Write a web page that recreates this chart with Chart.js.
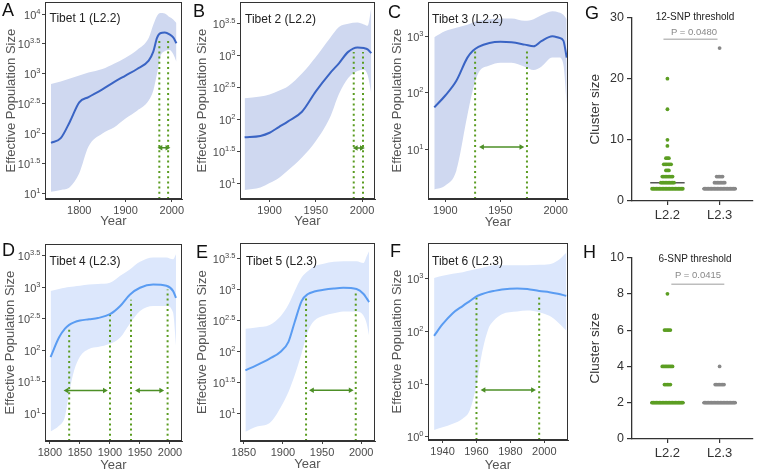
<!DOCTYPE html>
<html>
<head>
<meta charset="utf-8">
<script src="https://cdn.jsdelivr.net/npm/chart.js@4.4.1/dist/chart.umd.min.js"></script>
<style>
  html, body { margin: 0; padding: 0; background: #fff; }
  #fig { position: relative; width: 757px; height: 473px; overflow: hidden; font-family: "Liberation Sans", Arial, sans-serif; }
  #fig .box { position: absolute; }
  .lbl { position: absolute; white-space: nowrap; line-height: 1; }
  .letter { font-size: 18px; color: #111; }
  .tibet { font-size: 12px; color: #222; }
  .thr { font-size: 10px; color: #222; }
  .pval { font-size: 9.5px; color: #888; }
</style>
</head>
<body>
<div id="fig"></div>
<script>
// ---- skyline data (log10 of effective population size) ----
const yearsA  = [1739, 1760, 1780, 1800, 1820, 1850, 1875, 1900, 1925, 1950, 1960, 1968, 1975, 1985, 1995, 2003, 2010];
const medianA = [1.84, 1.92, 2.20, 2.52, 2.61, 2.74, 2.86, 2.97, 3.08, 3.22, 3.37, 3.60, 3.68, 3.69, 3.66, 3.61, 3.51];
const upperA  = [2.83, 2.87, 2.92, 2.97, 3.02, 3.08, 3.17, 3.27, 3.40, 3.60, 3.82, 3.97, 4.02, 4.01, 3.95, 3.91, 3.85];
const lowerA  = [1.02, 1.05, 1.10, 1.33, 1.78, 2.00, 2.10, 2.25, 2.38, 2.55, 2.72, 3.00, 3.28, 3.38, 3.40, 3.33, 3.20];

const yearsB  = [1873, 1890, 1900, 1910, 1920, 1935, 1950, 1965, 1975, 1985, 1995, 2002, 2006, 2010];
const medianB = [1.72, 1.74, 1.79, 1.88, 1.97, 2.12, 2.44, 2.72, 2.88, 3.06, 3.13, 3.12, 3.10, 3.04];
const upperB  = [2.33, 2.36, 2.39, 2.45, 2.52, 2.72, 2.98, 3.27, 3.45, 3.50, 3.52, 3.49, 3.47, 3.75];
const lowerB  = [0.89, 0.93, 1.00, 1.08, 1.20, 1.40, 1.66, 2.02, 2.40, 2.65, 2.76, 2.78, 2.70, 2.41];

const yearsC  = [1890, 1900, 1910, 1920, 1925, 1930, 1940, 1950, 1960, 1972, 1980, 1987, 1997, 2003, 2007, 2010];
const medianC = [1.74, 1.95, 2.21, 2.62, 2.74, 2.81, 2.88, 2.90, 2.89, 2.85, 2.82, 2.91, 3.00, 2.97, 2.92, 2.62];
const upperC  = [2.98, 3.09, 3.15, 3.20, 3.24, 3.27, 3.30, 3.31, 3.31, 3.27, 3.30, 3.37, 3.44, 3.42, 3.38, 3.30];
const lowerC  = [0.29, 0.36, 0.62, 1.60, 2.05, 2.35, 2.48, 2.53, 2.53, 2.46, 2.40, 2.46, 2.62, 2.62, 2.50, 1.80];

const yearsD  = [1801, 1815, 1825, 1832, 1840, 1850, 1865, 1880, 1900, 1917, 1933, 1950, 1972, 1994, 2005, 2010];
const medianD = [1.89, 2.20, 2.34, 2.40, 2.44, 2.47, 2.49, 2.51, 2.57, 2.70, 2.88, 2.99, 3.04, 3.02, 2.94, 2.83];
const upperD  = [2.94, 2.97, 2.99, 3.00, 3.01, 3.02, 3.04, 3.05, 3.07, 3.18, 3.28, 3.40, 3.47, 3.47, 3.44, 3.52];
const lowerD  = [0.71, 0.80, 0.95, 1.33, 1.67, 1.90, 2.02, 2.05, 2.10, 2.20, 2.42, 2.62, 2.70, 2.70, 2.60, 2.07];

const yearsE  = [1852, 1866, 1883, 1897, 1907, 1915, 1924, 1932, 1940, 1952, 1965, 1977, 1994, 2003, 2007, 2010];
const medianE = [1.70, 1.78, 1.89, 2.00, 2.16, 2.48, 2.82, 2.93, 2.97, 3.00, 3.02, 3.03, 3.01, 2.93, 2.86, 2.80];
const upperE  = [2.37, 2.39, 2.43, 2.57, 2.76, 2.98, 3.20, 3.30, 3.38, 3.42, 3.45, 3.46, 3.46, 3.43, 3.54, 3.62];
const lowerE  = [0.71, 0.79, 0.85, 1.10, 1.35, 1.62, 1.98, 2.33, 2.50, 2.58, 2.62, 2.65, 2.65, 2.58, 2.45, 2.26];

const yearsF  = [1935, 1940, 1946, 1952, 1956, 1960, 1963, 1967, 1970, 1975, 1984, 1990, 1997, 2003, 2008, 2013];
const medianF = [1.92, 2.14, 2.35, 2.49, 2.58, 2.67, 2.71, 2.75, 2.77, 2.80, 2.82, 2.81, 2.77, 2.75, 2.72, 2.68];
const upperF  = [3.02, 3.06, 3.10, 3.13, 3.16, 3.19, 3.21, 3.24, 3.26, 3.26, 3.26, 3.26, 3.27, 3.28, 3.35, 3.50];
const lowerF  = [0.13, 0.18, 0.25, 0.35, 0.50, 0.98, 1.55, 2.05, 2.20, 2.33, 2.38, 2.40, 2.37, 2.30, 2.18, 2.02];

// HPD limits (dotted lines), their top ends, and arrows
const hpdA = [1973, 1992], hpdTopA = [3.60, 3.60], arrowsA = [[1976, 1990]], arrowYA = 1.76;
const hpdB = [1991, 2001], hpdTopB = [3.06, 3.06], arrowsB = [[1993.5, 1999.5]], arrowYB = 1.55;
const hpdC = [1927, 1974], hpdTopC = [2.77, 2.77], arrowsC = [[1933.5, 1968.7]], arrowYC = 1.04;
const hpdD = [1832, 1900, 1935, 1996], hpdTopD = [2.34, 2.57, 2.80, 2.96], arrowsD = [[1828, 1891], [1947, 1985]], arrowYD = 1.36;
const hpdE = [1929.5, 1993], hpdTopE = [2.88, 2.96], arrowsE = [[1937.4, 1986.2]], arrowYE = 1.38;
const hpdF = [1960, 1997], hpdTopF = [2.65, 2.68], arrowsF = [[1964.3, 1993.2]], arrowYF = 0.89;

// tick labels
const xTicksA = [1800, 1900, 2000];
const xTicksB = [1900, 1950, 2000];
const xTicksC = [1900, 1950, 2000];
const xTicksD = [1800, 1850, 1900, 1950, 2000];
const xTicksE = [1850, 1900, 1950, 2000];
const xTicksF = [1940, 1960, 1980, 2000];
const yTicksHalf = [1, 1.5, 2, 2.5, 3, 3.5, 4];
const yTicksB = [1, 1.5, 2, 2.5, 3, 3.5];
const yTicksC = [1, 2, 3];
const yTicksF = [0, 1, 2, 3];

// ---- cluster sizes (G, H) ----
const groups = ["L2.2", "L2.3"];
const sizesG22 = [2, 3, 4, 5, 6, 7, 9, 10, 15, 20];
const countsG22 = [22, 10, 8, 3, 6, 3, 1, 1, 1, 1];
const sizesG23 = [2, 3, 4, 25];
const countsG23 = [22, 8, 5, 1];
const mediansG = [3, 2];
const sizesH22 = [2, 3, 4, 6, 8];
const countsH22 = [22, 5, 8, 5, 1];
const sizesH23 = [2, 3, 4];
const countsH23 = [22, 7, 1];
const mediansH = [2, 2];
const yTicksG = [0, 10, 20, 30];
const yTicksH = [0, 2, 4, 6, 8, 10];

Chart.defaults.font.family = "'Liberation Sans', Arial, sans-serif";
Chart.defaults.animation = false;

const fig = document.getElementById("fig");
const GREEN = "#5a9c20", ARROW = "#4d8f26";

function addText(cls, text, left, top, extra) {
  const d = document.createElement("div");
  d.className = "lbl " + cls;
  d.textContent = text;
  d.style.left = left + "px";
  d.style.top = top + "px";
  if (extra) Object.assign(d.style, extra);
  fig.appendChild(d);
  return d;
}

// canvas placed so that the chart area lands on plot = [x0, y0, x1, y1]
function makeCanvas(plot, yTitleX, bottomY, padRight) {
  const cLeft = Math.floor(yTitleX - 9);
  const cTop = Math.floor(plot[1] - 8);
  const cRight = Math.min(757, Math.ceil(plot[2] + padRight));
  const cBottom = Math.ceil(bottomY);
  const box = document.createElement("div");
  box.className = "box";
  Object.assign(box.style, { left: cLeft + "px", top: cTop + "px",
    width: (cRight - cLeft) + "px", height: (cBottom - cTop) + "px" });
  const cv = document.createElement("canvas");
  cv.width = cRight - cLeft; cv.height = cBottom - cTop;
  box.appendChild(cv);
  fig.appendChild(box);
  return { cv, cLeft, cTop, cRight, cBottom,
    layout: { left: 0, top: plot[1] - cTop, right: cRight - plot[2], bottom: 0 },
    yWidth: plot[0] - cLeft, xHeight: cBottom - plot[3] };
}

const framePlugin = {
  id: "frame",
  afterDraw(chart, args, opts) {
    if (!opts.on) return;
    const a = chart.chartArea, ctx = chart.ctx;
    ctx.save();
    ctx.strokeStyle = "#333"; ctx.lineWidth = 1;
    ctx.strokeRect(Math.round(a.left) + 0.5, Math.round(a.top) + 0.5,
      Math.round(a.right - a.left) - 1, Math.round(a.bottom - a.top) - 1);
    ctx.restore();
  }
};

const expLabels = {
  id: "expLabels",
  afterDraw(chart, args, opts) {
    if (!opts.ticks) return;
    const s = chart.scales.y, ctx = chart.ctx;
    ctx.save();
    ctx.fillStyle = "#4a4a4a";
    opts.ticks.forEach(v => {
      const y = s.getPixelForValue(v);
      const right = s.right - 4.5;
      const sup = String(v);
      ctx.font = "7.5px 'Liberation Sans'";
      const ws = ctx.measureText(sup).width;
      ctx.textBaseline = "alphabetic";
      ctx.textAlign = "left";
      ctx.fillText(sup, right - ws, y - 0.5);
      ctx.font = "11px 'Liberation Sans'";
      ctx.textAlign = "right";
      ctx.fillText("10", right - ws, y + 4.5);
    });
    ctx.restore();
  }
};

function skyline(p) {
  const c = makeCanvas(p.plot, p.yTitleX, p.xTitleY + 9, 8);
  const pts = arr => p.years.map((x, i) => ({ x, y: arr[i] }));
  const datasets = [{
    data: pts(p.median), borderColor: p.line, borderWidth: 2, pointRadius: 0,
    cubicInterpolationMode: "monotone", fill: false
  }];
  p.hpd.forEach((h, i) => datasets.push({
    data: [{ x: h, y: p.yMin }, { x: h, y: p.hpdTop[i] }], borderColor: GREEN,
    borderWidth: 2, borderDash: [2, 3.2], pointRadius: 0, fill: false
  }));
  p.arrows.forEach(a => datasets.push({
    data: [{ x: a[0], y: p.arrowY }, { x: a[1], y: p.arrowY }], borderColor: ARROW,
    borderWidth: 1.5, pointStyle: "triangle", pointRadius: 3.2, pointRotation: [270, 90],
    pointBackgroundColor: ARROW, pointBorderWidth: 0, fill: false
  }));
  datasets.push({ data: pts(p.upper), borderWidth: 0, pointRadius: 0, fill: "+1",
    backgroundColor: p.band, cubicInterpolationMode: "monotone" });
  datasets.push({ data: pts(p.lower), borderWidth: 0, pointRadius: 0, fill: false,
    cubicInterpolationMode: "monotone" });

  new Chart(c.cv, {
    type: "line",
    data: { datasets },
    options: {
      responsive: false, animation: false, parsing: true,
      layout: { padding: c.layout },
      plugins: { legend: { display: false }, tooltip: { enabled: false },
        frame: { on: true }, expLabels: { ticks: p.yTicks } },
      scales: {
        x: {
          type: "linear", min: p.xMin, max: p.xMax,
          afterBuildTicks: s => { s.ticks = p.xTicks.map(v => ({ value: v })); },
          afterFit: s => { s.height = c.xHeight; },
          ticks: { callback: v => String(v), font: { size: 11 }, color: "#4a4a4a", padding: 2, maxRotation: 0 },
          grid: { drawOnChartArea: false, drawTicks: true, tickLength: 3, color: "#444" },
          border: { display: true, color: "#333" },
          title: { display: true, text: "Year", font: { size: 13, lineHeight: 1.2 }, color: "#555",
            padding: { top: 0, bottom: c.cBottom - 7.8 - p.xTitleY } }
        },
        y: {
          type: "linear", min: p.yMin, max: p.yMax,
          afterBuildTicks: s => { s.ticks = p.yTicks.map(v => ({ value: v })); },
          afterFit: s => { s.width = c.yWidth; },
          ticks: { callback: () => "", padding: 2 },
          grid: { drawOnChartArea: false, drawTicks: true, tickLength: 3, color: "#444" },
          border: { display: true, color: "#333" },
          title: { display: true, text: "Effective Population Size", font: { size: 13, lineHeight: 1.2 },
            color: "#555", padding: { top: p.yTitleX - c.cLeft - 7.8, bottom: 0 } }
        }
      }
    },
    plugins: [framePlugin, expLabels]
  });
}

const BAND1 = "#cfd8f0", LINE1 = "#3a64c4", BAND2 = "#dce7fc", LINE2 = "#5a9cf2";

skyline({ plot: [45, 1, 182, 199], yTitleX: 11, xTitleY: 221.7, years: yearsA, median: medianA, upper: upperA, lower: lowerA,
  xMin: 1726, xMax: 2022, xTicks: xTicksA, yMin: 0.9, yMax: 4.2, yTicks: yTicksHalf,
  hpd: hpdA, hpdTop: hpdTopA, arrows: arrowsA, arrowY: arrowYA, band: BAND1, line: LINE1 });
skyline({ plot: [240, 1, 375, 199], yTitleX: 202, xTitleY: 221.7, years: yearsB, median: medianB, upper: upperB, lower: lowerB,
  xMin: 1868, xMax: 2014, xTicks: xTicksB, yMin: 0.75, yMax: 3.84, yTicks: yTicksB,
  hpd: hpdB, hpdTop: hpdTopB, arrows: arrowsB, arrowY: arrowYB, band: BAND1, line: LINE1 });
skyline({ plot: [428, 1, 568, 199], yTitleX: 397.5, xTitleY: 222.5, years: yearsC, median: medianC, upper: upperC, lower: lowerC,
  xMin: 1884.3, xMax: 2011.2, xTicks: xTicksC, yMin: 0.12, yMax: 3.6, yTicks: yTicksC,
  hpd: hpdC, hpdTop: hpdTopC, arrows: arrowsC, arrowY: arrowYC, band: BAND1, line: LINE1 });
skyline({ plot: [45, 243, 182, 441], yTitleX: 10.5, xTitleY: 465, years: yearsD, median: medianD, upper: upperD, lower: lowerD,
  xMin: 1791.7, xMax: 2020, xTicks: xTicksD, yMin: 0.56, yMax: 3.68, yTicks: yTicksB,
  hpd: hpdD, hpdTop: hpdTopD, arrows: arrowsD, arrowY: arrowYD, band: BAND2, line: LINE2 });
skyline({ plot: [240, 242, 375, 441], yTitleX: 202.5, xTitleY: 464.3, years: yearsE, median: medianE, upper: upperE, lower: lowerE,
  xMin: 1845.1, xMax: 2017.6, xTicks: xTicksE, yMin: 0.56, yMax: 3.75, yTicks: yTicksB,
  hpd: hpdE, hpdTop: hpdTopE, arrows: arrowsE, arrowY: arrowYE, band: BAND2, line: LINE2 });
skyline({ plot: [428, 242, 568, 440], yTitleX: 397.5, xTitleY: 465, years: yearsF, median: medianF, upper: upperF, lower: lowerF,
  xMin: 1931.4, xMax: 2014, xTicks: xTicksF, yMin: -0.06, yMax: 3.68, yTicks: yTicksF,
  hpd: hpdF, hpdTop: hpdTopF, arrows: arrowsF, arrowY: arrowYF, band: BAND2, line: LINE2 });

// ---- dot plots ----
function rowPoints(center, sizes, counts) {
  const out = [];
  sizes.forEach((v, k) => {
    const n = counts[k];
    for (let i = 0; i < n; i++) out.push({ x: center + (i - (n - 1) / 2) * 0.028, y: v });
  });
  return out;
}

function dotPlot(p) {
  const c = makeCanvas(p.plot, p.yTitleX, p.plot[3] + 26, 2);
  const datasets = [
    { type: "scatter", data: rowPoints(1, p.sizes[0], p.counts[0]), pointRadius: 1.9,
      pointBackgroundColor: "#5c9e23", pointBorderWidth: 0 },
    { type: "scatter", data: rowPoints(2, p.sizes[1], p.counts[1]), pointRadius: 1.9,
      pointBackgroundColor: "#888", pointBorderWidth: 0 }
  ];
  p.medians.forEach((m, i) => datasets.push({ type: "line",
    data: [{ x: i + 1 - 0.33, y: m }, { x: i + 1 + 0.33, y: m }],
    borderColor: "#555", borderWidth: 1.5, pointRadius: 0 }));
  datasets.push({ type: "line", data: [{ x: p.bracket[0], y: p.bracket[2] }, { x: p.bracket[1], y: p.bracket[2] }],
    borderColor: "#bdbdbd", borderWidth: 1.5, pointRadius: 0 });

  new Chart(c.cv, {
    type: "scatter",
    data: { datasets },
    options: {
      responsive: false, animation: false,
      layout: { padding: c.layout },
      plugins: { legend: { display: false }, tooltip: { enabled: false } },
      scales: {
        x: {
          type: "linear", min: 0.321, max: 2.64,
          afterBuildTicks: s => { s.ticks = [1, 2].map(v => ({ value: v })); },
          afterFit: s => { s.height = c.xHeight; },
          ticks: { callback: v => groups[v - 1], font: { size: 13 }, color: "#333", padding: 3, maxRotation: 0 },
          grid: { drawOnChartArea: false, drawTicks: true, tickLength: 4, color: "#333", lineWidth: 1.2 },
          border: { display: true, color: "#333", width: 1.3 }
        },
        y: {
          type: "linear", min: 0, max: p.yMax,
          afterBuildTicks: s => { s.ticks = p.yTicks.map(v => ({ value: v })); },
          afterFit: s => { s.width = c.yWidth; },
          ticks: { font: { size: 12.5 }, color: "#333", padding: 3 },
          grid: { drawOnChartArea: false, drawTicks: true, tickLength: 5, color: "#333", lineWidth: 1.2 },
          border: { display: true, color: "#333", width: 1.3 },
          title: { display: true, text: "Cluster size", font: { size: 13.5, lineHeight: 1.2 }, color: "#333",
            padding: { top: p.yTitleX - c.cLeft - 8.1, bottom: 0 } }
        }
      }
    }
  });
}

dotPlot({ plot: [632, 15, 755, 201], yTitleX: 595.5, yMax: 30, yTicks: yTicksG,
  sizes: [sizesG22, sizesG23], counts: [countsG22, countsG23], medians: mediansG, bracket: [0.924, 1.96, 26.45] });
dotPlot({ plot: [632, 255, 755, 439], yTitleX: 595.5, yMax: 10, yTicks: yTicksH,
  sizes: [sizesH22, sizesH23], counts: [countsH22, countsH23], medians: mediansH, bracket: [1.075, 2.09, 8.53] });

// ---- text labels ----
addText("letter", "A", 2, 1);
addText("letter", "B", 193, 1.5);
addText("letter", "C", 388, 2.5);
addText("letter", "G", 585, 4);
addText("letter", "D", 2, 241);
addText("letter", "E", 196, 242.5);
addText("letter", "F", 390, 241.5);
addText("letter", "H", 583, 242.5);

addText("tibet", "Tibet 1 (L2.2)", 49.5, 11.5);
addText("tibet", "Tibet 2 (L2.2)", 245, 13);
addText("tibet", "Tibet 3 (L2.2)", 432, 12.7);
addText("tibet", "Tibet 4 (L2.3)", 49.5, 254.8);
addText("tibet", "Tibet 5 (L2.3)", 246, 255);
addText("tibet", "Tibet 6 (L2.3)", 432, 255);

addText("thr", "12-SNP threshold", 695, 11.7, { transform: "translateX(-50%)" });
addText("pval", "P = 0.0480", 694, 27, { transform: "translateX(-50%)" });
addText("thr", "6-SNP threshold", 695, 254, { transform: "translateX(-50%)" });
addText("pval", "P = 0.0415", 698, 270.3, { transform: "translateX(-50%)" });
</script>
</body>
</html>
